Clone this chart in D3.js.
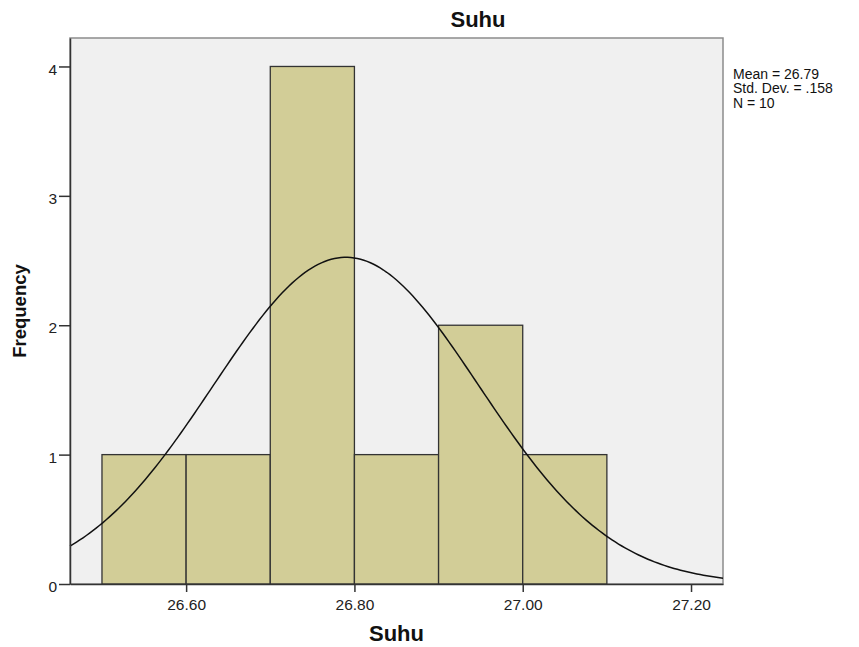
<!DOCTYPE html>
<html>
<head>
<meta charset="utf-8">
<script src="https://cdn.jsdelivr.net/npm/d3@7"></script>
<style>
  body { margin: 0; background: #fff; }
  text { font-family: "Liberation Sans", Arial, sans-serif; }
</style>
</head>
<body>
<svg id="chart"></svg>
<script>
// ---------------- data ----------------
var binStarts = [26.5, 26.6, 26.7, 26.8, 26.9, 27.0];
var binWidth = 0.1;
var counts = [1, 1, 4, 1, 2, 1];
var xTicks = [26.6, 26.8, 27.0, 27.2];
var yTicks = [0, 1, 2, 3, 4];
var statLines = ['Mean = 26.79', 'Std. Dev. = .158', 'N = 10'];
var mean = 26.79, sd = 0.158, n = 10;

// ---------------- layout ----------------
var width = 859, height = 647;
var plotLeft = 70, plotRight = 723, plotTop = 38, plotBottom = 584;

var svg = d3.select('#chart')
  .attr('width', width)
  .attr('height', height);

var xScale = d3.scaleLinear()
  .domain([26.462, 27.238])
  .range([plotLeft, plotRight]);

var yScale = d3.scaleLinear()
  .domain([0, 4.22])
  .range([plotBottom, plotTop]);

// plot background
svg.append('rect')
  .attr('x', plotLeft).attr('y', plotTop)
  .attr('width', plotRight - plotLeft).attr('height', plotBottom - plotTop)
  .attr('fill', '#f0f0f0')
  .attr('stroke', '#8c8c8c')
  .attr('stroke-width', 1.5);

// bars
svg.selectAll('rect.bar')
  .data(binStarts)
  .enter()
  .append('rect')
    .classed('bar', true)
    .attr('x', d => xScale(d))
    .attr('y', (d, i) => yScale(counts[i]))
    .attr('width', d => xScale(d + binWidth) - xScale(d))
    .attr('height', (d, i) => yScale(0) - yScale(counts[i]))
    .attr('fill', '#d2cd97')
    .attr('stroke', '#333')
    .attr('stroke-width', 1.3);

// normal curve
var xDom = xScale.domain();
var pts = d3.range(0, 201).map(function(i) {
  var x = xDom[0] + i * (xDom[1] - xDom[0]) / 200;
  var y = n * binWidth / (sd * Math.sqrt(2 * Math.PI)) * Math.exp(-0.5 * Math.pow((x - mean) / sd, 2));
  return [x, y];
});

svg.append('path')
  .datum(pts)
  .attr('d', d3.line().x(d => xScale(d[0])).y(d => yScale(d[1])))
  .attr('fill', 'none')
  .attr('stroke', '#111')
  .attr('stroke-width', 1.5);

// axes
var xAxis = svg.append('g')
  .attr('transform', `translate(0, ${plotBottom})`)
  .call(d3.axisBottom(xScale).tickValues(xTicks).tickFormat(d3.format('.2f')).tickSize(8).tickSizeOuter(0));

var yAxis = svg.append('g')
  .attr('transform', `translate(${plotLeft}, 0)`)
  .call(d3.axisLeft(yScale).tickValues(yTicks).tickFormat(d3.format('d')).tickSize(11).tickSizeOuter(0));

[xAxis, yAxis].forEach(function(g) {
  g.select('.domain').attr('stroke', '#333').attr('stroke-width', 1.5);
  g.selectAll('.tick line').attr('stroke', '#333').attr('stroke-width', 1.5);
  g.selectAll('.tick text')
    .attr('fill', '#222')
    .style('font-size', '15.5px')
    .style('font-family', '"Liberation Sans", Arial, sans-serif');
});
xAxis.selectAll('.tick text').attr('y', 26).attr('dy', 0);
yAxis.selectAll('.tick text').attr('x', -13).attr('dy', '0.5em');

// titles
svg.append('text')
  .text('Suhu')
  .attr('x', 478).attr('y', 27)
  .attr('text-anchor', 'middle')
  .style('font-size', '22px')
  .style('font-weight', 'bold')
  .attr('fill', '#111');

svg.append('text')
  .text('Suhu')
  .attr('x', (plotLeft + plotRight) / 2).attr('y', 641)
  .attr('text-anchor', 'middle')
  .style('font-size', '22px')
  .style('font-weight', 'bold')
  .attr('fill', '#111');

svg.append('text')
  .text('Frequency')
  .attr('transform', 'rotate(-90)')
  .attr('x', -311).attr('y', 26)
  .attr('text-anchor', 'middle')
  .style('font-size', '18.5px')
  .style('font-weight', 'bold')
  .attr('fill', '#111');

// stats box
svg.selectAll('text.stat')
  .data(statLines)
  .enter()
  .append('text')
    .classed('stat', true)
    .text(d => d)
    .attr('x', 733)
    .attr('y', (d, i) => 78.5 + i * 14.5)
    .style('font-size', '14px')
    .attr('fill', '#111');
</script>
</body>
</html>
